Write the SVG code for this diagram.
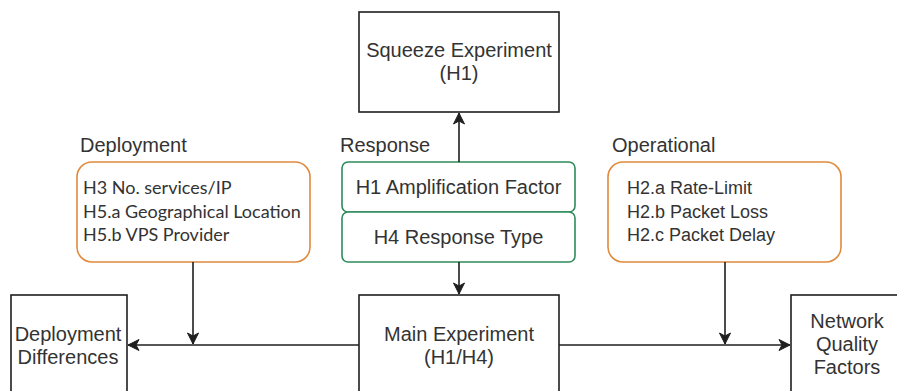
<svg xmlns="http://www.w3.org/2000/svg" width="897" height="391" viewBox="0 0 897 391">
  <style>
    .box { fill: #ffffff; stroke: #1f1f1f; stroke-width: 1.6; }
    .orange { fill: #ffffff; stroke: #e08a3c; stroke-width: 1.6; }
    .green { fill: #ffffff; stroke: #2e8b5a; stroke-width: 1.6; }
    .t { font-family: "Liberation Sans", Arial, sans-serif; font-size: 20px; fill: #333333; }
    .mid { text-anchor: middle; }
    .list { font-family: "Liberation Sans", Arial, sans-serif; font-size: 18px; fill: #333333; }
    .listc { font-family: Lato, "Open Sans", sans-serif; font-size: 18px; fill: #333333; }
    .edge { fill: none; stroke: #1f1f1f; stroke-width: 1.6; }
  </style>
  <defs>
    <marker id="arrow" markerUnits="userSpaceOnUse" markerWidth="14" markerHeight="14" viewBox="-12 -7 14 14" refX="0" refY="0" orient="auto">
      <path d="M0,0 L-11,-5.5 L-8,0 L-11,5.5 Z" fill="#1f1f1f" stroke="#1f1f1f" stroke-width="1"/>
    </marker>
  </defs>
  <rect width="897" height="391" fill="#ffffff"/>

  <!-- experiment boxes -->
  <g id="squeeze">
    <rect class="box" x="359" y="12" width="200" height="100"/>
    <text class="t mid" x="459" y="57">Squeeze Experiment</text>
    <text class="t mid" x="459" y="80">(H1)</text>
  </g>

  <g id="main">
    <rect class="box" x="359" y="295" width="200" height="110"/>
    <text class="t mid" x="459" y="341">Main Experiment</text>
    <text class="t mid" x="459" y="364">(H1/H4)</text>
  </g>

  <g id="deployment-differences">
    <rect class="box" x="11" y="295" width="116" height="110"/>
    <text class="t mid" x="68" y="341">Deployment</text>
    <text class="t mid" x="68" y="364">Differences</text>
  </g>

  <g id="network-quality">
    <rect class="box" x="791" y="295" width="116" height="110"/>
    <text class="t mid" x="847" y="328">Network</text>
    <text class="t mid" x="847" y="351">Quality</text>
    <text class="t mid" x="847" y="374">Factors</text>
  </g>

  <!-- factor groups -->
  <g id="deployment">
    <text class="t" x="80" y="152">Deployment</text>
    <rect class="orange" x="77" y="162" width="233" height="100" rx="15" ry="15"/>
    <text class="listc" x="83" y="194">H3 No. services/IP</text>
    <text class="listc" x="83" y="218">H5.a Geographical Location</text>
    <text class="listc" x="83" y="241">H5.b VPS Provider</text>
  </g>

  <g id="response">
    <text class="t" x="340" y="152">Response</text>
    <rect class="green" x="342" y="162" width="233" height="50" rx="6" ry="6"/>
    <text class="t mid" x="458.5" y="194">H1 Amplification Factor</text>
    <rect class="green" x="342" y="212" width="233" height="50" rx="6" ry="6"/>
    <text class="t mid" x="458.5" y="244">H4 Response Type</text>
  </g>

  <g id="operational">
    <text class="t" x="612" y="152">Operational</text>
    <rect class="orange" x="608" y="162" width="233" height="100" rx="15" ry="15"/>
    <text class="list" x="627" y="194">H2.a Rate-Limit</text>
    <text class="list" x="627" y="218">H2.b Packet Loss</text>
    <text class="list" x="627" y="241">H2.c Packet Delay</text>
  </g>

  <!-- connectors -->
  <g id="connectors">
    <path class="edge" d="M459,162 L459,113" marker-end="url(#arrow)"/>
    <path class="edge" d="M459,262 L459,294" marker-end="url(#arrow)"/>
    <path class="edge" d="M359,345 L128,345" marker-end="url(#arrow)"/>
    <path class="edge" d="M193,262 L193,344" marker-end="url(#arrow)"/>
    <path class="edge" d="M559,345 L790,345" marker-end="url(#arrow)"/>
    <path class="edge" d="M725,262 L725,344" marker-end="url(#arrow)"/>
  </g>
</svg>
